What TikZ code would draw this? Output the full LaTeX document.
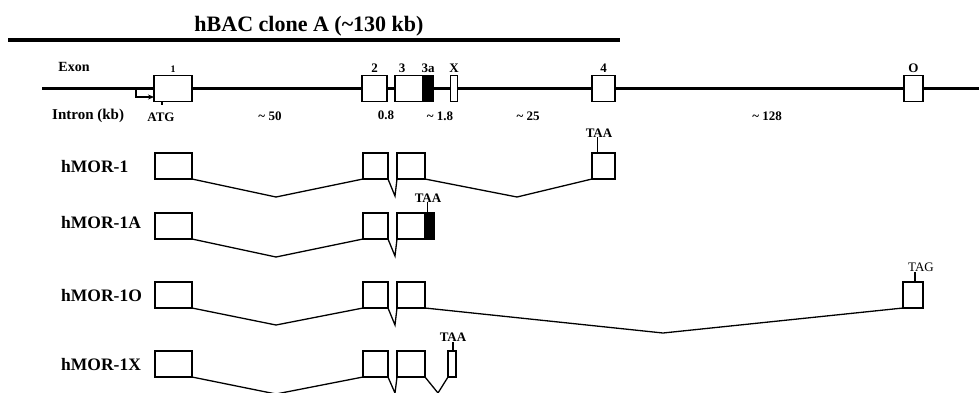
\documentclass[tikz,border=0pt]{standalone}
\usepackage{fontspec}
\setmainfont{Liberation Serif}
\usetikzlibrary{arrows.meta, positioning}

\begin{document}
\begin{tikzpicture}[x=1pt, y=-1pt,
  exon/.style={draw, fill=white, line width=1.4pt, inner sep=0pt, outer sep=0pt, minimum height=26pt},
  stopexon/.style={exon, fill=black},
  gene/.style={line width=3.4pt},
  splice/.style={line width=1.3pt},
  tick/.style={line width=1.2pt},
  num/.style={font=\bfseries\fontsize{13}{13}\selectfont, inner sep=0pt},
  codon/.style={font=\bfseries\fontsize{13}{13}\selectfont, inner sep=0pt},
  isoform/.style={font=\bfseries\fontsize{17.5}{17.5}\selectfont, inner sep=0pt, anchor=west}]

\useasboundingbox (0,0) rectangle (979,392);

% BAC clone
\coordinate (bacL) at (8,40);
\coordinate (bacR) at (620,40);
\draw[line width=4pt] (bacL) -- (bacR);
\node[font=\bfseries\fontsize{22}{22}\selectfont, inner sep=0pt] (bac) at (309,26) {hBAC clone A (\textasciitilde130 kb)};

% Gene line
\coordinate (gstart) at (42,88.5);
\coordinate (gend) at (979,88.5);
\draw[gene] (gstart) -- (gend);

\node[num, font=\bfseries\fontsize{14}{14}\selectfont] (exon) at (74,67) {Exon};
\node[num, font=\bfseries\fontsize{15}{15}\selectfont, anchor=west] (intron) at (52,116) {Intron (kb)};

% Define exons
\node[exon, minimum width=38pt] (g1) at (173,88.5) {};
\node[exon, minimum width=25pt] (g2) at (374.5,88.5) {};
\node[exon, minimum width=28pt] (g3) at (409,88.5) {};
\node[stopexon, minimum width=10pt] (g3a) at (428,88.5) {};
\node[exon, minimum width=7pt] (gX) at (454,88.5) {};
\node[exon, minimum width=23pt] (g4) at (603.5,88.5) {};
\node[exon, minimum width=19pt] (gO) at (913.5,88.5) {};

% Exon labels
\node[num, above=3pt of g1, font=\bfseries\fontsize{10}{10}\selectfont] {1};
\node[num, above=3pt of g2] {2};
\node[num, above=3pt of g3, xshift=-7pt] {3};
\node[num, above=3pt of g3a] {3a};
\node[num, above=3pt of gX] {X};
\node[num, above=3pt of g4] {4};
\node[num, above=3pt of gO] {O};

% Promoter and intron sizes
\coordinate (tss) at (136,88.5);
\draw[line width=1.2pt, -{Stealth[length=6pt, width=5pt]}] (tss) |- ([yshift=-8.5pt]g1.west);
\draw[tick] ([xshift=-11pt]g1.south) -- ++(0,3);
\node[num] (atg) at (161,117) {ATG};
\node[num] (i1) at (270,116) {\textasciitilde\ 50};
\node[num] (i2) at (386,115) {0.8};
\node[num] (i3) at (440,116) {\textasciitilde\ 1.8};
\node[num] (i4) at (528,116) {\textasciitilde\ 25};
\node[num] (i5) at (767,116) {\textasciitilde\ 128};

% hMOR-1
\node[isoform] (hmor1) at (61,167) {hMOR-1};
\node[exon, minimum width=37pt] (r1e1) at (173.5,166) {};
\node[exon, minimum width=25pt] (r1e2) at (375.5,166) {};
\node[exon, minimum width=28pt] (r1e3) at (411,166) {};
\node[exon, minimum width=23pt] (r1e4) at (603.5,166) {};
\coordinate (v1a) at (276,197);
\coordinate (v1b) at (395,196);
\coordinate (v1c) at (517,197);
\draw[splice] (r1e1.south east) -- (v1a) -- (r1e2.south west);
\draw[splice] (r1e2.south east) -- (v1b) -- (r1e3.south west);
\draw[splice] (r1e3.south east) -- (v1c) -- (r1e4.south west);
\node[codon] (taa1) at (599,133) {TAA};
\draw[tick] ([xshift=-6pt]r1e4.north) -- ([xshift=-6pt]r1e4.north |- taa1.south);

% hMOR-1A
\node[isoform] (hmor1a) at (61,223) {hMOR-1A};
\node[exon, minimum width=37pt] (r2e1) at (173.5,226) {};
\node[exon, minimum width=25pt] (r2e2) at (375.5,226) {};
\node[exon, minimum width=28pt] (r2e3) at (411,226) {};
\node[stopexon, minimum width=9pt] (r2e3a) at (429.5,226) {};
\coordinate (v2a) at (276,257);
\coordinate (v2b) at (395,256);
\draw[splice] (r2e1.south east) -- (v2a) -- (r2e2.south west);
\draw[splice] (r2e2.south east) -- (v2b) -- (r2e3.south west);
\node[codon] (taa2) at (428,198) {TAA};
\draw[tick] ([xshift=-2pt]r2e3a.north) -- ([xshift=-2pt]r2e3a.north |- taa2.south);

% hMOR-1O
\node[isoform] (hmor1o) at (61,296) {hMOR-1O};
\node[exon, minimum width=37pt] (r3e1) at (173.5,295) {};
\node[exon, minimum width=25pt] (r3e2) at (375.5,295) {};
\node[exon, minimum width=28pt] (r3e3) at (411,295) {};
\node[exon, minimum width=20pt] (r3eO) at (913,295) {};
\coordinate (v3a) at (276,325);
\coordinate (v3b) at (395,325);
\coordinate (v3c) at (663,333);
\draw[splice] (r3e1.south east) -- (v3a) -- (r3e2.south west);
\draw[splice] (r3e2.south east) -- (v3b) -- (r3e3.south west);
\draw[splice] (r3e3.south east) -- (v3c) -- (r3eO.south west);
\node[codon, font=\fontsize{13}{13}\selectfont] (tag3) at (921,267.5) {TAG};
\draw[tick] ([xshift=2pt]r3eO.north) -- ([xshift=2pt]r3eO.north |- tag3.south);

% hMOR-1X
\node[isoform] (hmor1x) at (61,365) {hMOR-1X};
\node[exon, minimum width=37pt] (r4e1) at (173.5,364) {};
\node[exon, minimum width=25pt] (r4e2) at (375.5,364) {};
\node[exon, minimum width=28pt] (r4e3) at (411,364) {};
\node[exon, minimum width=8pt] (r4eX) at (452,364) {};
\coordinate (v4a) at (276,394);
\coordinate (v4b) at (395,393);
\coordinate (v4c) at (438,393);
\draw[splice] (r4e1.south east) -- (v4a) -- (r4e2.south west);
\draw[splice] (r4e2.south east) -- (v4b) -- (r4e3.south west);
\draw[splice] (r4e3.south east) -- (v4c) -- (r4eX.south west);
\node[codon] (taa4) at (453,337) {TAA};
\draw[tick] ([xshift=1pt]r4eX.north) -- ([xshift=1pt]r4eX.north |- taa4.south);

\end{tikzpicture}
\end{document}
